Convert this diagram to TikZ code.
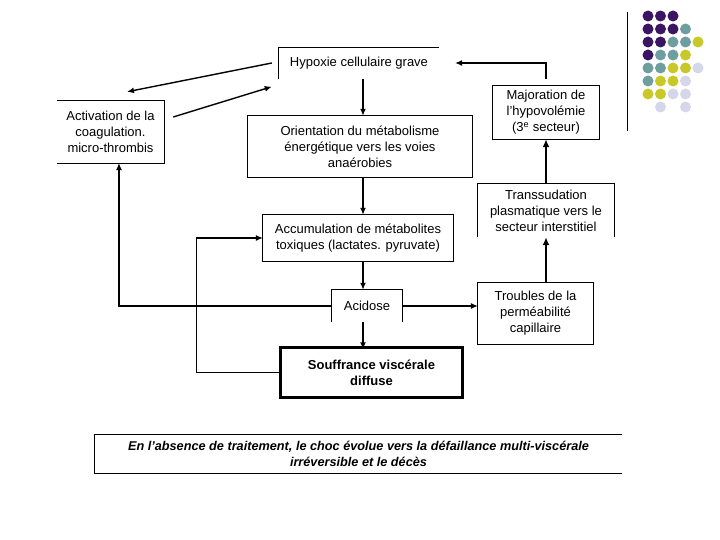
\documentclass[tikz,border=0pt]{standalone}
\usepackage{fontspec}
\setmainfont{Liberation Sans}
\usetikzlibrary{arrows.meta}

\begin{document}
\begin{tikzpicture}[x=1pt, y=-1pt,
    box/.style={align=center, inner sep=0pt, font=\fontsize{13}{16}\selectfont},
    edge/.style={line width=0.8pt},
    arr/.style={-{Latex[length=7pt,width=6pt]}, line width=1.4pt},
    thinarr/.style={-{Latex[length=7pt,width=6pt]}, line width=1.1pt},
    thickarr/.style={-{Latex[length=8pt,width=7pt]}, line width=2.6pt}]
    \useasboundingbox (0,0) rectangle (720,540);

    % boxes
    \node[box, minimum width=160pt, minimum height=31pt] (hyp) at (359,63) {Hypoxie cellulaire grave};
    \node[box, minimum width=107pt, minimum height=62pt] (act) at (110.5,132) {Activation de la\\coagulation.\\micro-thrombis};
    \node[box, minimum width=224pt, minimum height=61pt] (ori) at (360,146.5) {Orientation du métabolisme\\énergétique vers les voies\\anaérobies};
    \node[box, minimum width=190pt, minimum height=46pt] (acc) at (358,238) {Accumulation de métabolites\\toxiques (lactates. pyruvate)};
    \node[box, minimum width=70pt, minimum height=32pt] (aci) at (367,306) {Acidose};
    \node[box, font=\fontsize{13}{16}\selectfont\bfseries, minimum width=184pt, minimum height=46pt] (sou) at (371.5,372.5) {Souffrance viscérale\\diffuse};
    \node[box, minimum width=106pt, minimum height=53pt] (maj) at (546,112.5) {Majoration de\\l’hypovolémie\\(3\textsuperscript{e} secteur)};
    \node[box, minimum width=136pt, minimum height=53pt] (tra) at (546,210.5) {Transsudation\\plasmatique vers le\\secteur interstitiel};
    \node[box, minimum width=115pt, minimum height=61pt] (tro) at (535.5,313.5) {Troubles de la\\perméabilité\\capillaire};
    \node[box, font=\fontsize{12.7}{16}\selectfont\bfseries\itshape, minimum width=527pt, minimum height=38pt] (fin) at (358.5,454) {En l’absence de traitement, le choc évolue vers la défaillance multi-viscérale\\irréversible et le décès};

    % borders (some sides are left open)
    \draw[edge] (hyp.south west) |- (hyp.north east);
    \draw[edge] (act.north west) -| (act.south east) -- (act.south west);
    \draw[edge] (ori.south west) rectangle (ori.north east);
    \draw[edge] (acc.south west) rectangle (acc.north east);
    \draw[edge] (aci.south west) |- (aci.north east) -- (aci.south east);
    \draw[line width=3pt] ([shift={(1.5,1.5)}]sou.south west) rectangle ([shift={(-1.5,-1.5)}]sou.north east);
    \draw[edge] (maj.south west) rectangle (maj.north east);
    \draw[edge] (tra.south west) |- (tra.north east) -- (tra.south east);
    \draw[edge] (tro.south west) rectangle (tro.north east);
    \draw[edge] (fin.north east) -| (fin.south west) -- (fin.south east);

    % arrows
    \coordinate (col) at (363,0);
    \draw[arr] ([xshift=-7pt]hyp.west) -- ([shift={(16.5,-9)}]act.north);
    \draw[arr] ([shift={(9,-15)}]act.east) -- ([shift={(-7,8)}]hyp.south west);
    \draw[arr] (hyp.south -| col) -- (ori.north -| col);
    \draw[arr] (ori.south -| col) -- (acc.north -| col);
    \draw[arr] (acc.south -| col) -- (aci.north -| col);
    \draw[arr] (aci.south -| col) -- (sou.north -| col);
    \draw[thinarr] (aci.east) -- (aci.east -| tro.west);
    \draw[thinarr] (aci.west) -| ([xshift=8.5pt]act.south);
    \draw[thinarr] (sou.west) -- ++(-83,0) |- (acc.west);
    \draw[thickarr] (tro.north -| tra.south) -- (tra.south);
    \draw[thickarr] (tra.north) -- (maj.south);
    \draw[thinarr] ([yshift=7pt]maj.north) |- ([xshift=16pt]hyp.east);

    % corner decoration
    \definecolor{dotP}{RGB}{60,20,100}
    \definecolor{dotT}{RGB}{110,158,160}
    \definecolor{dotY}{RGB}{200,200,40}
    \definecolor{dotL}{RGB}{214,214,234}
    \draw[line width=1pt] (627,12) -- (627,131);
    \foreach \i/\j in {0/0,1/0,2/0,0/1,1/1,2/1,0/2,1/2,0/3}
        \fill[dotP] (648+12.5*\i, 16+13*\j) circle[radius=5.5pt];
    \foreach \i/\j in {3/1,2/2,3/2,1/3,2/3,0/4,1/4,0/5}
        \fill[dotT] (648+12.5*\i, 16+13*\j) circle[radius=5.5pt];
    \foreach \i/\j in {4/2,3/3,2/4,3/4,1/5,2/5,0/6,1/6}
        \fill[dotY] (648+12.5*\i, 16+13*\j) circle[radius=5.5pt];
    \foreach \i/\j in {4/4,3/5,2/6,3/6,1/7,3/7}
        \fill[dotL] (648+12.5*\i, 16+13*\j) circle[radius=5.5pt];
\end{tikzpicture}
\end{document}
